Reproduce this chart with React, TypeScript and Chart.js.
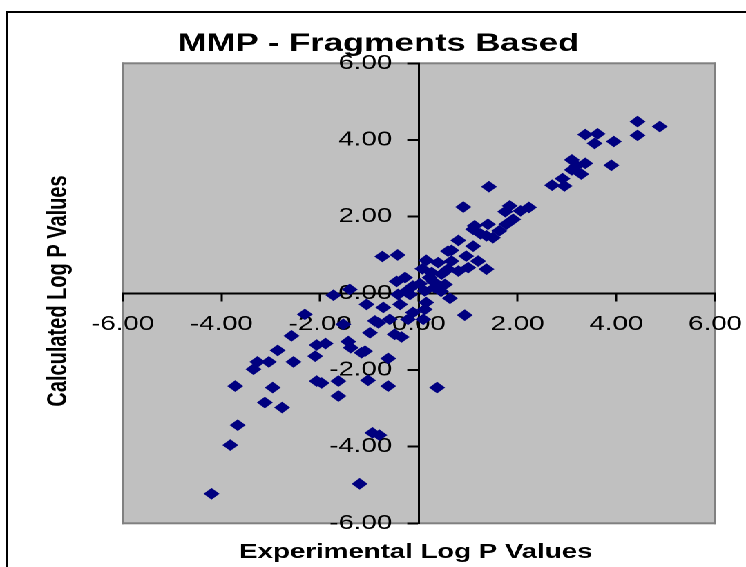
import React, { useEffect, useRef } from 'react';
import { Chart, registerables } from 'chart.js';

Chart.register(...registerables);

// ---- data ----
const experimental: number[] = [
  4.43, 4.88, 4.43, 3.37, 3.62, 3.56, 3.95, 3.90, 3.10, 3.37, 3.20, 3.10, 3.29, 2.91, 2.70, 2.95,
  1.42, 0.90, 2.23, 2.06, 1.84, 1.75, 1.91, 1.77, 1.63, 1.50, 1.40, 1.13, 1.37, 1.10, 1.10, 0.80,
  0.59, 1.20, 1.37, 0.96, 0.66, 0.80, 0.39, 0.15, 0.07, 0.22, 0.46, 0.53, 0.32, 0.12, 0.63, 0.15,
  0.93, 0.12, 0.09, 1.00, 0.66, 1.25, 0.30, 0.45, 0.02, 0.59, 0.26,
  -0.74, -0.43, -0.45, -0.28, -0.25, -0.18, -0.42, -0.12, -1.06, -0.72, -0.38, -0.12, -0.89, -0.59,
  -0.22, -0.99, -0.49, -1.73, -1.40, -2.31, -2.58, -1.53, -0.82, -2.86, -3.27, -3.04, -3.35, -2.54,
  -2.07, -1.89, -2.10, -1.43, -1.38, -1.16, -1.09, -0.62, -0.35, -3.72, -2.96, -3.12, -2.77, -2.07,
  -1.97, -1.63, -1.63, -1.03, -0.62, -3.67, -3.82, -4.20, -1.20, -0.94, -0.80, 0.37,
];
const calculated: number[] = [
  4.48, 4.35, 4.12, 4.14, 4.16, 3.91, 3.96, 3.34, 3.48, 3.39, 3.33, 3.22, 3.11, 2.99, 2.82, 2.80,
  2.78, 2.25, 2.24, 2.15, 2.28, 2.13, 1.93, 1.80, 1.63, 1.45, 1.80, 1.76, 1.50, 1.23, 1.67, 1.38,
  1.10, 0.84, 0.63, 0.97, 0.84, 0.58, 0.80, 0.86, 0.64, 0.41, 0.50, 0.23, 0.15, 0.06, -0.13, -0.24,
  -0.57, -0.42, -0.68, 0.67, 1.12, 1.55, 0.30, 0.05, 0.25, 0.63, 0.54,
  0.96, 1.00, 0.31, 0.41, 0.06, -0.03, -0.03, 0.19, -0.29, -0.37, -0.29, -0.50, -0.72, -0.68,
  -0.68, -1.03, -1.07, -0.05, 0.10, -0.55, -1.11, -0.81, -0.77, -1.49, -1.79, -1.79, -1.98, -1.79,
  -1.35, -1.31, -1.64, -1.26, -1.42, -1.55, -1.51, -1.70, -1.14, -2.42, -2.46, -2.85, -2.98, -2.29,
  -2.34, -2.29, -2.68, -2.27, -2.42, -3.44, -3.96, -5.23, -4.97, -3.64, -3.70, -2.46,
];
const axisMin = -6;
const axisMax = 6;
const axisStep = 2;
const chartTitle = 'MMP - Fragments Based';
const xTitle = 'Experimental Log P Values';
const yTitle = 'Calculated Log P Values';

// The reference is horizontally stretched; draw at base width then stretch.
const BASE_W = 540;
const H = 567;
const STRETCH = 746 / BASE_W;
const FONT = '"Liberation Sans", Arial, Helvetica, sans-serif';

const zeroPad = (s: any) => {
  s.paddingLeft = 0;
  s.paddingRight = 0;
  s.paddingTop = 0;
  s.paddingBottom = 0;
};

const decor = {
  id: 'decor',
  beforeDraw(chart: any) {
    const { ctx, chartArea: a } = chart;
    ctx.save();
    ctx.fillStyle = '#ffffff';
    ctx.fillRect(0, 0, chart.width, chart.height);
    // outer frame (top + left visible)
    ctx.fillStyle = '#000000';
    ctx.fillRect(4.1, 11, 1.5, chart.height);
    ctx.fillRect(4.1, 11, chart.width, 2);
    // plot area
    ctx.fillStyle = '#c0c0c0';
    ctx.fillRect(a.left, a.top, a.right - a.left, a.bottom - a.top);
    ctx.fillStyle = '#808080';
    ctx.fillRect(a.left - 0.75, a.top - 1, a.right - a.left + 1.5, 2);
    ctx.fillRect(a.left - 0.75, a.bottom - 1, a.right - a.left + 1.5, 2);
    ctx.fillRect(a.left - 0.75, a.top - 1, 1.5, a.bottom - a.top + 2);
    ctx.fillRect(a.right - 0.75, a.top - 1, 1.5, a.bottom - a.top + 2);
    ctx.restore();
  },
  afterDraw(chart: any) {
    const { ctx } = chart;
    ctx.save();
    ctx.fillStyle = '#000000';
    ctx.textAlign = 'center';
    ctx.textBaseline = 'middle';
    ctx.font = `bold 25px ${FONT}`;
    ctx.fillText(chartTitle, 274, 44.3);
    ctx.font = `bold 20px ${FONT}`;
    ctx.fillText(xTitle, 301, 552.4);
    ctx.translate(42.5, 291);
    ctx.rotate(-Math.PI / 2);
    ctx.fillText(yTitle, 0, 0);
    ctx.restore();
  },
};

export default function App() {
  const canvasRef = useRef<HTMLCanvasElement | null>(null);

  useEffect(() => {
    if (!canvasRef.current) return;
    const points = experimental.map((x, i) => ({ x, y: calculated[i] }));
    const tickFont = { family: FONT, size: 20, weight: 'normal' as const, lineHeight: 1.2 };
    const chart = new Chart(canvasRef.current, {
      type: 'scatter',
      data: {
        datasets: [
          {
            data: points,
            xAxisID: 'x',
            yAxisID: 'y',
            pointStyle: 'rectRot',
            pointRadius: 5.8,
            pointHoverRadius: 5.8,
            backgroundColor: '#000080',
            borderColor: '#000080',
            borderWidth: 0,
          },
        ],
      },
      options: {
        responsive: false,
        animation: false,
        devicePixelRatio: 2,
        events: [],
        layout: { padding: { left: 88.8, right: 22.4, top: 63.3, bottom: 43.7 } },
        plugins: {
          legend: { display: false },
          tooltip: { enabled: false },
          title: { display: false },
        },
        scales: {
          x: {
            type: 'linear',
            min: axisMin,
            max: axisMax,
            position: { y: 0 } as any,
            afterFit: zeroPad,
            grid: {
              display: true,
              drawOnChartArea: false,
              drawTicks: true,
              tickLength: 7,
              tickWidth: 1.5,
              tickColor: '#000000',
              color: '#000000',
            },
            border: { display: true, color: '#000000', width: 2 },
            ticks: { display: false, stepSize: axisStep },
          },
          y: {
            type: 'linear',
            min: axisMin,
            max: axisMax,
            position: { x: 0 } as any,
            afterFit: zeroPad,
            grid: {
              display: true,
              drawOnChartArea: false,
              drawTicks: true,
              tickLength: 7.7,
              tickWidth: 2,
              tickColor: '#000000',
              color: '#000000',
            },
            border: { display: true, color: '#000000', width: 1.5 },
            ticks: { display: false, stepSize: axisStep },
          },
          xl: {
            type: 'linear',
            axis: 'x',
            min: axisMin,
            max: axisMax,
            position: { y: 0 } as any,
            afterFit: zeroPad,
            z: 2,
            grid: { display: false, drawTicks: false },
            border: { display: false },
            ticks: {
              stepSize: axisStep,
              autoSkip: false,
              maxRotation: 0,
              minRotation: 0,
              padding: 19,
              color: '#000000',
              font: tickFont,
              callback: (v: any) => Number(v).toFixed(2),
            },
          } as any,
          yl: {
            type: 'linear',
            axis: 'y',
            min: axisMin,
            max: axisMax,
            // labels sit right-aligned at this x value, just left of the y axis tick marks
            position: { x: -0.54 } as any,
            afterFit: zeroPad,
            z: 2,
            grid: { display: false, drawTicks: false },
            border: { display: false },
            ticks: {
              stepSize: axisStep,
              autoSkip: false,
              padding: 0,
              color: '#000000',
              font: tickFont,
              callback: (v: any) => Number(v).toFixed(2),
            },
          } as any,
        },
      },
      plugins: [decor],
    });
    return () => chart.destroy();
  }, []);

  return (
    <div
      style={{
        position: 'fixed',
        left: 0,
        top: 0,
        width: BASE_W,
        height: H,
        transform: `scaleX(${STRETCH})`,
        transformOrigin: '0 0',
        background: '#ffffff',
        overflow: 'hidden',
      }}
    >
      <canvas ref={canvasRef} width={BASE_W} height={H} style={{ display: 'block' }} />
    </div>
  );
}
